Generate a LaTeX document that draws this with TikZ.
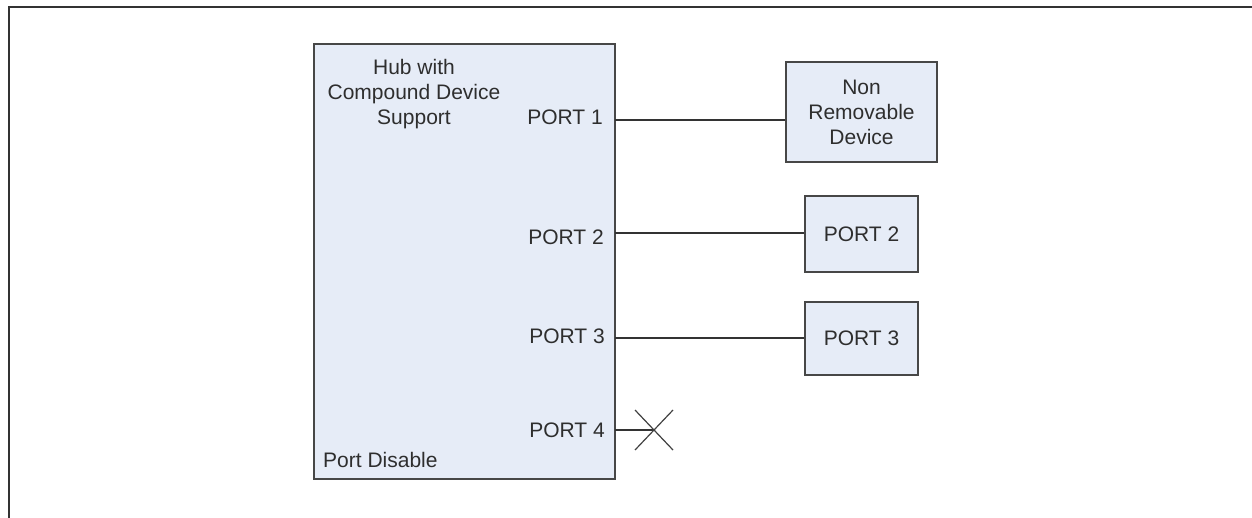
\documentclass[tikz,border=0pt]{standalone}
\usepackage{fontspec}
\setmainfont{Liberation Sans}
\begin{document}
\begin{tikzpicture}[x=1pt,y=-1pt,
  every node/.style={font=\fontsize{21}{25}\selectfont, text=black!82, inner sep=0pt},
  box/.style={draw=black!72, line width=1.8pt, fill=boxfill},
  wire/.style={draw=black!80, line width=1.5pt},
  lbl/.style={anchor=mid east}]
\definecolor{boxfill}{HTML}{E6ECF7}
\useasboundingbox (0,0) rectangle (1252,517);
% outer frame (runs past the page on the right and bottom)
\begin{scope}
\clip (0,0) rectangle (1252,517);
\draw[black!80, line width=1.6pt] (9,7) rectangle (1270,540);
\end{scope}

% hub
\draw[box] (314,44) rectangle (615,479);
\coordinate (hubE1) at (615,120);
\coordinate (hubE2) at (615,233);
\coordinate (hubE3) at (615,338);
\coordinate (hubE4) at (615,430);
\node[align=center] (hubtitle) at (414,94) {Hub with\\Compound Device\\Support};
\node[anchor=mid west] (portdis) at (323,465) {Port Disable};
\node[lbl] (p1) at (603,122) {PORT 1};
\node[lbl] (p2) at (604,242) {PORT 2};
\node[lbl] (p3) at (605,341) {PORT 3};
\node[lbl] (p4) at (605,435) {PORT 4};

% devices
\node[box, minimum width=151pt, minimum height=100pt, align=center] (nrd) at (861.5,112) {Non\\Removable\\Device};
\node[box, minimum width=113pt, minimum height=76pt] (d2) at (861.5,234) {PORT 2};
\node[box, minimum width=113pt, minimum height=73pt] (d3) at (861.5,338.5) {PORT 3};

% links
\draw[wire] (hubE1) -- (hubE1 -| nrd.west);
\draw[wire] (hubE2) -- (hubE2 -| d2.west);
\draw[wire] (hubE3) -- (hubE3 -| d3.west);
\coordinate (cut) at (654,430);
\draw[wire] (hubE4) -- (cut);
\draw[black!75, line width=1.2pt] (cut) ++(-19,-20) -- ++(38,40);
\draw[black!75, line width=1.2pt] (cut) ++(-19,20) -- ++(38,-40);
\end{tikzpicture}
\end{document}
